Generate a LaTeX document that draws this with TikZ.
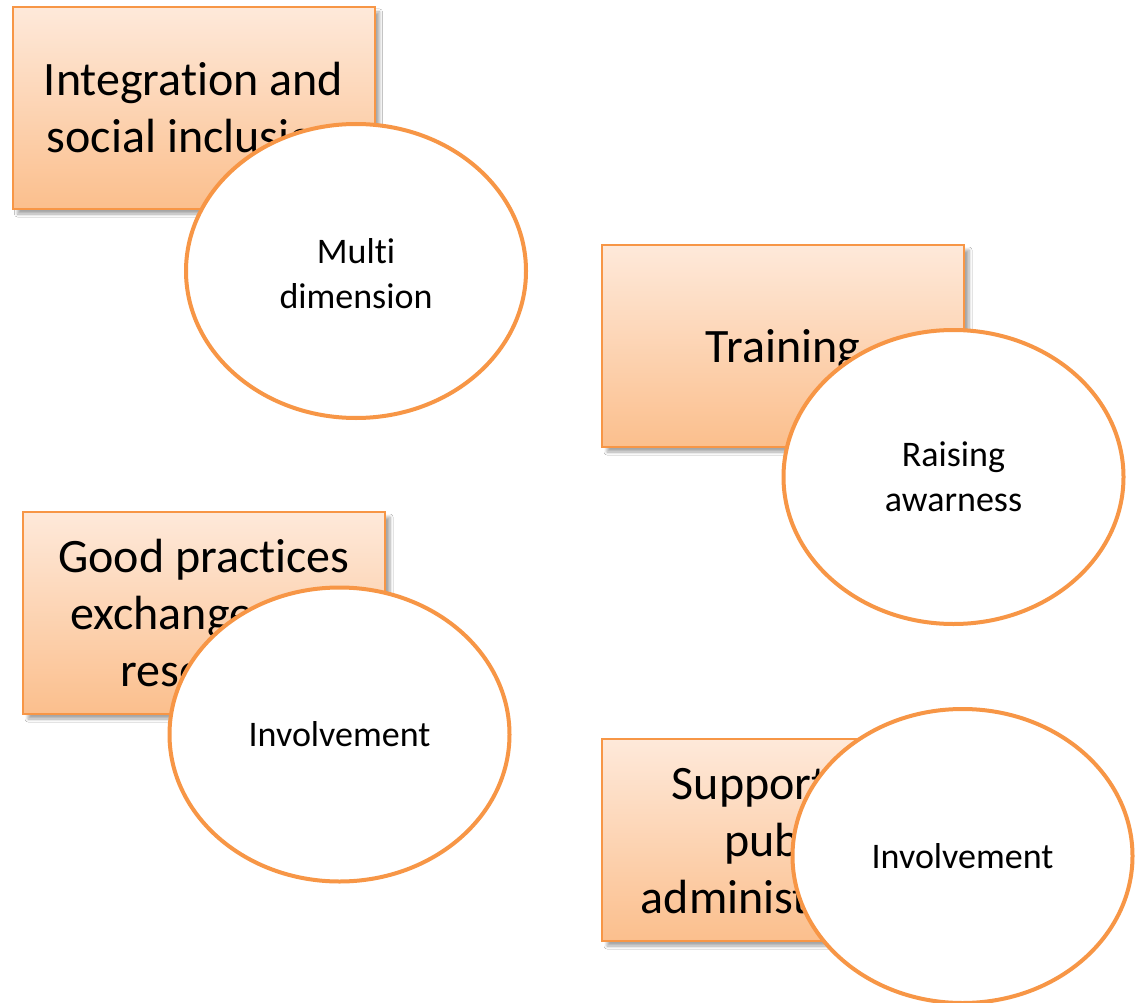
\documentclass[tikz,border=0pt]{standalone}
\usepackage{fontspec}
\setmainfont{Carlito}[Ligatures={NoCommon}]
\usetikzlibrary{shapes.geometric,shadows.blur}
\definecolor{accent}{HTML}{F79646}
\definecolor{peachtop}{HTML}{FEE9DA}
\definecolor{peachbot}{HTML}{FBBF8D}
\begin{document}
\begin{tikzpicture}[x=1pt,y=-1pt,
  topicbox/.style={rectangle, draw=accent, line width=2pt,
    top color=peachtop, bottom color=peachbot,
    minimum width=362pt, minimum height=202pt, inner sep=0pt,
    align=center, font=\fontsize{48}{57}\selectfont,
    blur shadow={shadow xshift=5pt, shadow yshift=-5pt, shadow blur steps=6, shadow blur radius=3pt, shadow opacity=35}},
  bubble/.style={ellipse, draw=accent, line width=4pt, fill=white,
    minimum width=340pt, minimum height=294pt, inner sep=0pt,
    align=center, font=\fontsize{36}{45}\selectfont}]
\useasboundingbox (0,0) rectangle (1140,1003);
\fill[white] (0,0) rectangle (1140,1003);

\node[topicbox] (r1) at (193.5,108) {Integration and\\social inclusion};
\node[bubble] (e1) at (356,271) {\raisebox{-3pt}[\height][\depth]{Multi}\\\raisebox{-3pt}[\height][\depth]{dimension}};

\node[topicbox] (r2) at (783,346) {\raisebox{-4pt}[\height][\depth]{Training}};
\node[bubble] (e2) at (953.5,477) {Raising\\awarness};

\node[topicbox] (r3) at (204,613) {Good practices\\exchange and\\research};
\node[bubble] (e3) at (339.5,734.5) {Involvement};

\node[topicbox] (r4) at (783,840) {Support for\\public\\administration};
\node[bubble] (e4) at (962.5,856) {Involvement};
\end{tikzpicture}
\end{document}
